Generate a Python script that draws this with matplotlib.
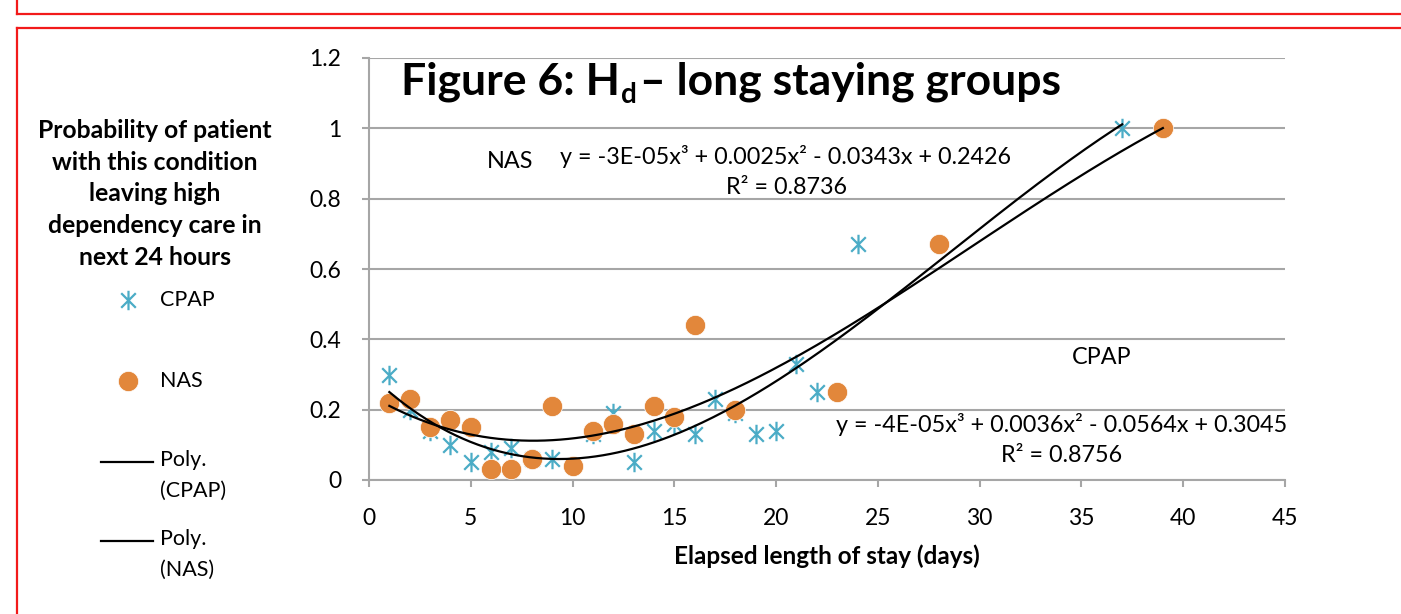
"""Figure 6: Hd - long staying groups (CPAP vs NAS)."""

import matplotlib
matplotlib.use("Agg")
import matplotlib.pyplot as plt
import numpy as np
from matplotlib.lines import Line2D
from matplotlib.path import Path

W, H = 1401, 614

cpap_days = [1, 2, 3, 4, 5, 6, 7, 8, 9, 11, 12, 13, 14, 15, 16, 17, 18, 19, 20, 21, 22, 24, 37]
cpap_prob = [0.30, 0.20, 0.14, 0.10, 0.05, 0.08, 0.09, 0.06, 0.06, 0.13, 0.19, 0.05, 0.14,
             0.16, 0.13, 0.23, 0.19, 0.13, 0.14, 0.33, 0.25, 0.67, 1.00]

nas_days = [1, 2, 3, 4, 5, 6, 7, 8, 9, 10, 11, 12, 13, 14, 15, 16, 18, 23, 28, 39]
nas_prob = [0.22, 0.23, 0.15, 0.17, 0.15, 0.03, 0.03, 0.06, 0.21, 0.04, 0.14, 0.16, 0.13,
            0.21, 0.18, 0.44, 0.20, 0.25, 0.67, 1.00]

x_ticks = [0, 5, 10, 15, 20, 25, 30, 35, 40, 45]
y_ticks = [0, 0.2, 0.4, 0.6, 0.8, 1, 1.2]

TEAL = "#4BACC6"
ORANGE = "#E2873B"
GRID = "#A6A6A6"
FONT = "Lato"

plt.rcParams["font.family"] = [FONT, "DejaVu Sans"]

star = Path(
    [(0, -1), (0, 1), (-0.75, -0.75), (0.75, 0.75), (-0.75, 0.75), (0.75, -0.75)],
    [Path.MOVETO, Path.LINETO, Path.MOVETO, Path.LINETO, Path.MOVETO, Path.LINETO],
)


def fp(x, y):
    """Pixel position -> figure fraction."""
    return x / W, 1 - y / H


fig = plt.figure(figsize=(W / 100, H / 100), dpi=100)
ax = fig.add_axes([369 / W, 1 - 480 / H, (1285 - 369) / W, (480 - 58) / H])

ax.plot(cpap_days, cpap_prob, linestyle="none", marker=star, markersize=14,
        markeredgecolor=TEAL, markeredgewidth=1.6, zorder=3)
ax.plot(nas_days, nas_prob, linestyle="none", marker="o", markersize=14.5,
        markerfacecolor=ORANGE, markeredgecolor="white", markeredgewidth=0.5, zorder=4)

for days, prob in [(cpap_days, cpap_prob), (nas_days, nas_prob)]:
    coef = np.polyfit(days, prob, 3)
    xs = np.linspace(min(days), max(days), 200)
    ax.plot(xs, np.polyval(coef, xs), color="black", lw=1.6, zorder=5)

ax.set_xlim(0, 45)
ax.set_ylim(0, 1.2)
ax.set_xticks(x_ticks)
ax.set_yticks(y_ticks)
ax.set_yticklabels([f"{v:g}" for v in y_ticks])
ax.yaxis.grid(True, color=GRID, lw=1.5)
ax.set_axisbelow(True)
for side in ["top", "right"]:
    ax.spines[side].set_visible(False)
for side in ["left", "bottom"]:
    ax.spines[side].set_color(GRID)
    ax.spines[side].set_linewidth(1.5)
ax.tick_params(axis="both", colors=GRID, labelcolor="black", labelsize=16.5,
               length=5, width=1.5, direction="out")
ax.tick_params(axis="y", pad=15)
ax.tick_params(axis="x", pad=15)
ax.set_xlabel("Elapsed length of stay (days)", fontsize=17.5, fontweight="bold", labelpad=11)

# trendline labels
TXT = 16.8
fig.text(*fp(487, 161), "NAS", fontsize=TXT, va="center", ha="left")
fig.text(*fp(786, 157), "y = -3E-05x³ + 0.0025x² - 0.0343x + 0.2426",
         fontsize=TXT, va="center", ha="center")
fig.text(*fp(786, 188), "R² = 0.8736", fontsize=TXT, va="center", ha="center")
fig.text(*fp(1102, 357), "CPAP", fontsize=TXT, va="center", ha="center")
fig.text(*fp(1062, 425), "y = -4E-05x³ + 0.0036x² - 0.0564x + 0.3045",
         fontsize=TXT, va="center", ha="center")
fig.text(*fp(1062, 456), "R² = 0.8756", fontsize=TXT, va="center", ha="center")

# title with subscript
fig.canvas.draw()
rend = fig.canvas.get_renderer()
t1 = fig.text(*fp(401, 95), "Figure 6: H", fontsize=32, fontweight="bold", va="baseline")
x_end = t1.get_window_extent(rend).x1
t2 = fig.text(x_end / W + 1 / W, 1 - 103 / H, "d", fontsize=20, fontweight="bold", va="baseline")
x_end = t2.get_window_extent(rend).x1
fig.text(x_end / W + 3 / W, 1 - 95 / H, "– long staying groups", fontsize=32,
         fontweight="bold", va="baseline")

# y-axis title and legend on the left
fig.text(*fp(155, 194), "Probability of patient\nwith this condition\nleaving high\n"
         "dependency care in\nnext 24 hours", fontsize=17.8, fontweight="bold",
         ha="center", va="center", linespacing=1.45)

LEG = 15.5
fig.add_artist(Line2D([128 / W], [1 - 300 / H], marker=star, markersize=14,
                      markeredgecolor=TEAL, markeredgewidth=1.6, linestyle="none"))
fig.text(*fp(160, 300), "CPAP", fontsize=LEG, va="center")
fig.add_artist(Line2D([128 / W], [1 - 381 / H], marker="o", markersize=14.5,
                      markerfacecolor=ORANGE, markeredgecolor="white",
                      markeredgewidth=0.5, linestyle="none"))
fig.text(*fp(160, 381), "NAS", fontsize=LEG, va="center")
for y, label in [(462, "Poly.\n(CPAP)"), (541, "Poly.\n(NAS)")]:
    fig.add_artist(Line2D([101 / W, 153 / W], [1 - y / H] * 2, color="black", lw=1.6))
    fig.text(*fp(160, y - 12), label, fontsize=LEG, va="top", linespacing=1.7)

# red frame lines of the page
RED = "#F21A1A"
for xs, ys in [([17, W], [14, 14]), ([17, 17], [0, 14]),
               ([17, W], [28, 28]), ([17, 17], [28, H])]:
    fig.add_artist(Line2D([x / W for x in xs], [1 - y / H for y in ys], color=RED, lw=1.6))

fig.savefig("out.png", dpi=100)
plt.close(fig)
